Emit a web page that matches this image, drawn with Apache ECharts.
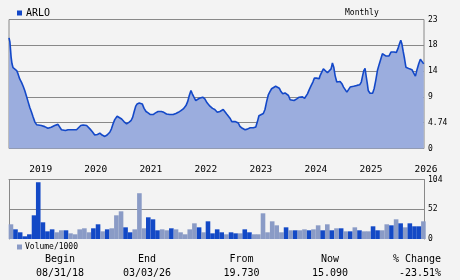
<!DOCTYPE html>
<html>
<head>
<meta charset="utf-8">
<script src="https://cdn.jsdelivr.net/npm/echarts@6/dist/echarts.min.js"></script>
<style>
html,body{margin:0;padding:0;background:#f3f3f3;}
#c{width:460px;height:280px;}
</style>
</head>
<body>
<div id="c"></div>
<script>
var symbol = 'ARLO';
var periodLabel = 'Monthly';
var volumeLabel = 'Volume/1000';
var yearTicks = [2019, 2020, 2021, 2022, 2023, 2024, 2025, 2026];
var priceTickLabels = ['0', '4.74', '9', '14', '18', '23'];
var volumeTicks = [0, 52, 104];
var statLabels = ['Begin', 'End', 'From', 'Now', '% Change'];
var statValues = ['08/31/18', '03/03/26', '19.730', '15.090', '-23.51%'];

var priceDates = [
'2018-08-19','2018-08-25','2018-09-02','2018-09-08','2018-09-15','2018-09-26','2018-10-09','2018-10-18','2018-10-29','2018-11-10','2018-11-21','2018-12-02','2018-12-12','2018-12-23',
'2019-01-04','2019-01-15','2019-01-26','2019-02-07','2019-02-18','2019-02-28','2019-03-21','2019-04-13','2019-05-04','2019-05-15','2019-05-26','2019-06-18','2019-07-10','2019-07-21','2019-08-02','2019-08-13','2019-08-28','2019-09-15','2019-11-10','2019-11-21','2019-12-08','2019-12-24',
'2020-01-16','2020-02-07','2020-02-23','2020-03-10','2020-03-28','2020-04-13','2020-04-28','2020-05-16','2020-05-31','2020-06-18','2020-06-29','2020-07-10','2020-07-21','2020-08-06','2020-08-19','2020-09-05','2020-09-20','2020-10-08','2020-10-23','2020-11-06','2020-11-17','2020-11-26','2020-12-07','2020-12-17','2020-12-31',
'2021-01-12','2021-01-20','2021-02-01','2021-02-14','2021-02-28','2021-03-15','2021-04-02','2021-04-18','2021-05-05','2021-05-27','2021-06-12','2021-06-30','2021-07-21','2021-08-13','2021-08-31','2021-09-16','2021-10-01','2021-10-19','2021-11-06','2021-11-17','2021-11-28','2021-12-09','2021-12-18','2021-12-29',
'2022-01-10','2022-01-23','2022-02-03','2022-02-12','2022-02-25','2022-03-11','2022-03-26','2022-04-14','2022-05-01','2022-05-16','2022-06-02','2022-06-08','2022-06-19','2022-06-30','2022-07-11','2022-07-22','2022-08-03','2022-08-14','2022-08-25','2022-09-06','2022-09-17','2022-09-28','2022-10-08','2022-10-19','2022-10-30','2022-11-15','2022-12-03','2022-12-18',
'2023-01-06','2023-01-27','2023-02-12','2023-02-23','2023-03-05','2023-03-18','2023-04-03','2023-04-14','2023-04-25','2023-05-06','2023-05-17','2023-05-28','2023-06-08','2023-06-24','2023-07-07','2023-07-18','2023-07-29','2023-08-10','2023-08-25','2023-09-06','2023-09-17','2023-09-28','2023-10-09','2023-10-24','2023-11-11','2023-11-27','2023-12-08','2023-12-19',
'2024-01-02','2024-01-10','2024-01-21','2024-02-02','2024-02-15','2024-02-26','2024-03-07','2024-03-22','2024-04-08','2024-04-14','2024-04-25','2024-05-06','2024-05-17','2024-06-02','2024-06-15','2024-06-26','2024-07-05','2024-07-14','2024-07-23','2024-08-03','2024-08-14','2024-08-25','2024-09-06','2024-09-17','2024-09-28','2024-10-09','2024-10-20','2024-10-31','2024-11-23','2024-12-15',
'2025-01-02','2025-01-13','2025-01-22','2025-01-30','2025-02-07','2025-02-13','2025-02-22','2025-02-28','2025-03-12','2025-03-29','2025-04-08','2025-04-19','2025-04-30','2025-05-11','2025-05-22','2025-06-02','2025-06-13','2025-06-24','2025-07-05','2025-07-16','2025-07-29','2025-08-10','2025-08-19','2025-09-02','2025-09-13','2025-09-24','2025-10-02','2025-10-09','2025-10-18','2025-10-27','2025-11-05','2025-11-16','2025-11-29','2025-12-15','2025-12-26',
'2026-01-07','2026-01-18','2026-01-29','2026-02-09','2026-02-20','2026-03-03'
];
var priceValues = [
19.73,19.0,16.3,15.1,14.4,14.2,13.9,13.3,12.4,11.8,11.1,10.3,9.4,8.4,
7.3,6.5,5.6,4.7,4.25,4.1,4.1,3.9,3.6,3.5,3.8,4.1,4.3,4.1,3.35,3.0,3.2,3.35,3.35,3.5,4.1,4.2,
4.1,3.5,3.0,2.4,2.5,2.75,2.4,2.15,2.4,2.9,3.5,4.4,5.15,5.75,5.55,5.25,4.8,4.4,4.65,4.95,5.55,6.45,7.5,7.95,8.1,
8.35,7.95,7.15,6.6,6.35,6.05,6.05,6.35,6.6,6.6,6.45,6.15,6.05,6.05,6.25,6.45,6.7,7.05,7.65,8.35,9.45,10.35,9.75,9.15,
8.55,8.85,8.95,9.3,9.15,8.85,8.15,7.55,7.15,6.95,6.45,6.35,6.6,6.75,6.95,6.6,6.15,5.85,5.4,4.8,4.55,4.8,4.95,4.55,3.95,3.6,3.35,3.45,
3.7,3.7,3.85,4.8,5.85,6.15,6.25,6.95,8.35,9.55,10.15,10.65,10.95,11.1,11.25,10.75,10.15,9.75,9.9,9.95,9.45,8.7,8.35,8.55,8.85,9.15,9.45,9.2,
8.95,9.15,9.75,10.5,11.25,11.85,12.55,12.55,12.45,13.0,13.6,14.2,13.9,13.5,13.15,14.2,15.25,14.5,13.0,11.85,11.55,11.95,11.55,10.95,10.5,10.05,10.5,10.95,11.1,11.25,
11.35,11.85,13.0,13.9,14.3,13.15,11.55,10.35,9.85,9.85,10.65,12.15,13.9,14.95,15.9,16.9,16.75,16.5,16.15,16.5,17.2,17.5,17.2,17.1,17.8,18.7,19.3,18.7,17.3,16.0,14.5,14.35,14.2,14.05,13.5,
12.9,14.1,15.1,15.9,15.6,15.09
];

// monthly volume (thousands), Sep 2018 .. Mar 2026
var volumeStart = '2018-09';
var volumeValues = [
25.7,16.9,11.7,4.7,8.2,41.4,99.2,29.2,13.4,16.9,11.7,15.2,15.2,9.9,8.2,16.9,18.7,11.7,18.7,25.7,13.4,16.9,18.7,41.4,48.4,20.4,11.7,16.9,80.0,18.7,
37.9,34.4,15.2,16.9,15.2,18.7,16.9,11.7,8.2,16.9,27.4,20.4,11.7,30.9,9.9,16.9,11.7,8.2,11.7,9.9,9.9,16.9,11.7,8.2,8.2,44.9,11.7,30.9,23.9,11.7,
20.4,15.2,15.2,15.2,16.9,15.2,16.9,23.9,15.2,25.7,15.2,18.7,18.7,13.4,13.4,20.4,15.2,13.4,13.4,22.2,15.2,15.2,25.7,23.9,34.4,27.4,20.4,27.4,22.2,22.2,
30.9
];
var volumeDark = [
0,1,1,1,1,1,1,1,1,1,0,0,1,0,0,0,0,0,1,1,0,1,0,0,0,1,1,0,0,0,
1,1,1,0,0,1,0,0,0,0,0,1,0,1,1,1,1,0,1,1,0,1,1,0,0,0,0,0,0,0,
1,0,1,0,0,1,0,0,1,0,1,0,1,0,1,0,1,0,0,1,1,0,0,1,0,1,0,1,1,1,
0
];

function toYear(s) {
  var p = s.split('-').map(Number);
  var y = p[0], m = p[1] || 1, d = p[2] || 1;
  var t = Date.UTC(y, m - 1, d), a = Date.UTC(y, 0, 1), b = Date.UTC(y + 1, 0, 1);
  return y + (t - a) / (b - a);
}

var xMin = toYear('2018-08-19');
var xMax = toYear('2026-03-05');

var priceData = priceDates.map(function (d, i) { return [toYear(d), priceValues[i]]; });

var vs = volumeStart.split('-').map(Number);
var volumeData = volumeValues.map(function (v, i) {
  var mi = vs[1] - 1 + i;
  var y = vs[0] + Math.floor(mi / 12), m = (mi % 12) + 1;
  var key = y + '-' + (m < 10 ? '0' + m : m) + '-01';
  return {
    value: [toYear(key), v],
    itemStyle: { color: volumeDark[i] ? '#1349c6' : '#8a9bc6' }
  };
});

var MONO = 'DejaVu Sans Mono';
var statX = [60, 147, 241.5, 330, 417];
var graphics = [];
statLabels.forEach(function (t, i) {
  graphics.push({ type: 'text', x: statX[i], y: 259.5, style: { text: t, font: '10px "' + MONO + '"', fill: '#000', textAlign: 'center', textVerticalAlign: 'middle' } });
  graphics.push({ type: 'text', x: statX[i] + (i === 4 ? 3 : 0), y: 273, style: { text: statValues[i], font: '10px "' + MONO + '"', fill: '#000', textAlign: 'center', textVerticalAlign: 'middle' } });
});

var chart = echarts.init(document.getElementById('c'), null, { renderer: 'canvas' });
chart.setOption({
  backgroundColor: '#f3f3f3',
  animation: false,
  textStyle: { fontFamily: MONO },
  title: {
    text: periodLabel, left: 340, top: 4,
    textStyle: { fontSize: 8, fontWeight: 'normal', color: '#000', fontFamily: MONO }
  },
  legend: [
    {
      data: [symbol], left: 12, top: 3, icon: 'rect', itemWidth: 5, itemHeight: 5, itemGap: 5,
      textStyle: { fontSize: 10, color: '#000', fontFamily: MONO, padding: [0, 0, 0, -1] }
    },
    {
      data: [volumeLabel], left: 12, top: 238, icon: 'rect', itemWidth: 5, itemHeight: 5,
      textStyle: { fontSize: 8, color: '#000', fontFamily: MONO, padding: [0, 0, 0, -2] }
    }
  ],
  grid: [
    { left: 9, right: 36, top: 19.5, height: 129, show: true, borderColor: '#888', borderWidth: 1, backgroundColor: 'transparent' },
    { left: 9, right: 36, top: 179.5, height: 59.5 }
  ],
  xAxis: [
    {
      type: 'value', gridIndex: 0, min: xMin, max: xMax,
      axisLine: { show: false }, axisTick: { show: false }, splitLine: { show: false },
      axisLabel: {
        customValues: yearTicks, formatter: function (v) { return String(Math.round(v)); },
        align: 'left', fontSize: 9.5, color: '#000', fontFamily: MONO, margin: 16
      }
    },
    {
      type: 'value', gridIndex: 1, min: xMin, max: xMax, position: 'top',
      axisLine: { show: true, onZero: false, lineStyle: { color: '#888', width: 1 } },
      axisTick: { show: false }, splitLine: { show: false }, axisLabel: { show: false }
    }
  ],
  yAxis: [
    {
      type: 'value', gridIndex: 0, position: 'right', min: 0, max: 23, interval: 4.6,
      axisLine: { show: false }, axisTick: { show: false },
      splitLine: { show: true, lineStyle: { color: '#888', width: 1 } },
      axisLabel: {
        formatter: function (v) { return priceTickLabels[Math.round(v / 4.6)]; },
        fontSize: 8, color: '#000', fontFamily: MONO, margin: 4
      }
    },
    {
      type: 'value', gridIndex: 1, position: 'right', min: 0, max: 104, interval: 52,
      axisLine: { show: true, onZero: false, lineStyle: { color: '#888', width: 1 } },
      axisTick: { show: false },
      splitLine: { show: true, showMinLine: false, showMaxLine: false, lineStyle: { color: '#888', width: 1 } },
      axisLabel: {
        customValues: volumeTicks,
        fontSize: 8, color: '#000', fontFamily: MONO, margin: 4
      }
    },
    {
      type: 'value', gridIndex: 1, position: 'left', min: 0, max: 104,
      axisLine: { show: true, onZero: false, lineStyle: { color: '#888', width: 1 } },
      axisTick: { show: false }, splitLine: { show: false }, axisLabel: { show: false }
    }
  ],
  series: [
    {
      name: symbol, type: 'line', xAxisIndex: 0, yAxisIndex: 0, data: priceData,
      showSymbol: false, symbol: 'none', smooth: false, color: '#1348c8',
      lineStyle: { color: '#1348c8', width: 1.6 },
      areaStyle: { color: '#9badde', opacity: 1 },
      z: 3
    },
    {
      name: volumeLabel, type: 'bar', xAxisIndex: 1, yAxisIndex: 1, data: volumeData,
      barWidth: 4.6, color: '#8a9bc6', clip: true
    }
  ],
  graphic: graphics
});
</script>
</body>
</html>
